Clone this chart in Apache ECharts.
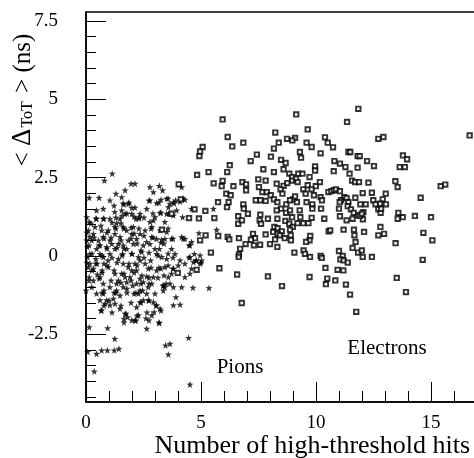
<!DOCTYPE html>
<html>
<head>
<meta charset="utf-8">
<script src="https://cdn.jsdelivr.net/npm/echarts@6/dist/echarts.min.js"></script>
<style>html,body{margin:0;padding:0;background:#fff}#c{width:474px;height:458px}</style>
</head>
<body>
<div id="c"></div>
<script>
// ---- data ----
const pions = [
[1.14,2.63],[0.80,2.41],[0.14,1.86],[0.57,1.86],[1.30,1.99],[1.70,2.10],[1.96,2.31],[2.13,2.31],[2.78,2.20],[2.93,2.04],[3.19,2.24],[3.33,2.10],[2.78,1.78],[3.07,1.69],[3.26,1.80],[3.51,1.83],[3.65,1.67],[3.90,1.78],[4.30,1.80],[2.64,1.51],[2.35,1.35],[1.84,1.67],[1.99,1.54],[1.65,1.65],[1.55,1.46],[1.25,1.41],[1.04,1.19],[0.75,1.19],[0.46,1.19],[0.14,1.09],[1.70,1.35],[1.99,1.35],[2.17,1.19],[2.32,1.24],[1.48,1.19],[1.33,1.05],[1.26,0.93],[0.97,0.82],[0.75,0.61],[0.54,0.50],[0.32,0.71],[0.10,0.82],[0.06,0.29],[0.17,0.07],[0.25,0.50],[0.46,0.23],[0.61,0.07],[0.43,-0.09],[0.17,-0.24],[0.32,-0.40],[0.14,-0.67],[0.49,-0.59],[0.70,-0.46],[0.78,-0.24],[0.96,-0.14],[0.61,0.34],[0.90,0.29],[1.12,0.39],[1.26,0.23],[1.41,0.39],[1.62,0.34],[1.77,0.23],[1.99,0.07],[1.04,0.07],[1.41,-0.09],[1.59,0.07],[1.62,-0.24],[1.84,-0.35],[1.99,-0.46],[1.91,-0.67],[1.77,-0.83],[1.62,-0.99],[1.48,-1.26],[1.33,-1.10],[1.19,-1.36],[0.90,-1.41],[0.83,-1.52],[0.68,-1.73],[1.04,-1.57],[1.26,-1.52],[1.48,-1.68],[1.70,-1.84],[1.65,-2.00],[1.81,-1.95],[1.99,-2.05],[2.13,-2.05],[2.28,-1.89],[2.20,-1.63],[2.35,-1.47],[2.49,-1.41],[2.71,-1.41],[2.93,-1.47],[3.07,-1.57],[3.22,-1.68],[2.96,-1.79],[2.86,-1.89],[2.74,-2.05],[2.64,-2.32],[3.19,-2.14],[2.28,-1.20],[2.46,-1.10],[2.71,-0.99],[2.86,-0.88],[2.93,-0.67],[3.07,-0.46],[3.25,-0.40],[3.43,-0.35],[3.51,-0.09],[3.29,-0.03],[3.07,0.07],[3.00,0.23],[2.78,0.39],[2.64,0.45],[2.49,0.34],[2.42,0.13],[2.28,-0.03],[2.13,-0.24],[2.20,-0.46],[2.35,-0.72],[2.49,-0.83],[2.64,-0.65],[2.71,-0.40],[2.57,-0.24],[2.81,-0.14],[2.35,0.71],[2.57,0.82],[2.86,0.93],[3.22,0.82],[3.51,0.77],[3.72,0.55],[3.43,0.55],[3.07,0.55],[2.86,0.61],[2.20,0.55],[1.99,0.71],[1.77,0.82],[1.62,0.93],[2.06,0.93],[2.06,0.39],[1.84,0.50],[2.35,-0.14],[1.48,0.61],[1.26,0.71],[1.04,0.50],[0.75,-0.03],[0.43,-0.24],[0.03,1.24],[0.07,-0.03],[0.10,-0.35],[0.75,-0.88],[0.61,-0.67],[0.97,-0.35],[1.26,-0.56],[1.41,-0.78],[1.55,-0.56],[1.70,-0.67],[3.36,-0.94],[3.43,-0.99],[3.58,-0.67],[3.72,-0.56],[3.80,-0.40],[4.01,-0.30],[4.16,0.61],[4.30,0.55],[4.52,0.34],[4.59,0.45],[4.52,-0.03],[4.67,-0.19],[4.81,-0.14],[4.96,-0.24],[5.03,-0.14],[4.59,-0.40],[4.52,-0.56],[4.30,-0.67],[4.16,-0.99],[3.91,-1.31],[3.80,-1.57],[4.09,-1.55],[5.35,-1.02],[3.46,-2.85],[3.58,-3.14],[3.65,-2.80],[4.46,-2.61],[4.52,-4.10],[0.14,-2.27],[0.94,-2.30],[1.25,-2.64],[1.43,-2.96],[1.23,-3.01],[0.93,-3.01],[0.68,-3.01],[0.46,-3.12],[0.07,-3.06],[0.36,-3.68],[4.91,0.73],[4.71,0.07],[4.96,0.02],[5.68,0.84],[5.54,1.51],[3.94,1.46],[4.59,1.51],[4.20,1.24],[3.80,1.30],[3.51,1.35],[3.22,1.38],[3.00,1.24],[2.93,1.14],[2.78,1.09],[4.09,1.74],[4.16,2.20],[3.80,1.72],[3.58,1.56],[3.43,1.09],[3.29,0.52],[3.19,0.23],[3.72,0.23],[3.87,0.07],[4.09,-0.14],[4.30,-0.24],[3.65,-0.88],[3.80,-0.99],[3.36,-1.10],[3.00,-1.20],[2.64,-1.20],[2.35,-1.10],[2.03,-0.94],[2.20,-0.88],[1.33,-0.88],[1.04,-0.99],[0.75,-1.20],[0.61,-1.41],[0.46,-1.20],[0.25,-0.99],[0.32,-0.78],[0.00,-1.10],[0.68,0.82],[0.39,0.93],[0.17,0.61],[0.03,0.50],[1.55,1.88],[1.04,1.78],[0.75,1.51],[0.46,1.46],
[1.22,1.61],[1.61,1.68],[1.87,1.71],[2.13,1.55],[0.43,1.20],[0.78,1.20],[1.30,1.23],[1.57,1.29],[1.78,1.36],[2.09,1.26],[2.30,1.20],[2.52,1.23],[0.22,1.04],[0.65,0.97],[1.13,1.07],[1.52,1.04],[1.96,0.91],[2.30,0.88],[0.04,0.75],[0.91,0.75],[1.30,0.88],[1.65,0.88],[2.09,0.72],[2.52,0.65],[0.35,0.59],[0.78,0.56],[1.09,0.59],[1.52,0.50],[1.96,0.56],[2.22,0.40],[0.13,0.34],[0.57,0.34],[0.91,0.24],[1.35,0.27],[1.65,0.24],[2.39,0.18],[0.26,0.08],[0.70,0.02],[1.13,-0.05],[1.57,0.02],[2.00,0.08],[2.52,-0.05],[0.04,-0.21],[0.48,-0.24],[0.91,-0.30],[1.35,-0.21],[1.87,-0.24],[2.22,-0.30],[0.26,-0.46],[0.70,-0.53],[1.22,-0.46],[1.65,-0.56],[2.09,-0.53],[2.43,-0.62],[0.13,-0.78],[0.57,-0.72],[1.09,-0.78],[1.52,-0.85],[1.96,-0.78],[2.39,-0.88],[0.78,-1.10],[1.30,-1.17],[1.78,-1.04],[2.17,-1.17],
[2.74,1.77],[3.17,1.71],[3.57,1.84],[3.83,1.68],[4.22,1.84],[2.91,1.36],[3.26,1.39],[3.61,1.36],[2.83,0.88],[3.57,0.88],[3.78,0.56],[4.22,0.56],[4.48,0.34],[2.91,0.59],[3.26,0.43],[3.39,0.40],[2.74,0.11],[3.13,0.02],[3.57,0.08],[3.78,-0.05],[4.48,-0.05],[4.78,-0.14],[5.00,-0.21],[2.83,-0.37],[3.17,-0.37],[3.57,-0.30],[3.78,-0.40],[2.74,-0.69],[3.13,-0.69],[3.39,-0.62],[2.74,-0.88],[3.35,-0.94],[3.48,-0.88],[4.65,-1.01],
[0.70,-1.17],[1.22,-1.17],[1.78,-1.17],[2.09,-1.20],[1.00,-1.42],[0.78,-1.58],[1.52,-1.58],[1.96,-1.49],[2.39,-1.49],[2.74,-1.42],[3.04,-1.58],[0.65,-1.74],[1.13,-1.80],[1.74,-1.84],[2.22,-1.90],[2.65,-1.80],[3.26,-1.74],[1.65,-2.12],[2.17,-2.06],[2.61,-1.99],[3.17,-2.12]
];
const electrons = [
[5.94,4.36],[9.14,4.52],[11.84,4.70],[11.35,4.28],[9.64,4.04],[8.23,3.94],[6.16,3.80],[6.84,3.62],[6.36,3.50],[5.07,3.48],[10.39,3.79],[10.51,3.62],[9.59,3.62],[9.81,3.48],[10.74,3.47],[12.71,3.74],[12.93,3.80],[16.68,3.85],[8.74,3.74],[9.09,3.77],[8.97,3.69],[8.38,3.62],[8.17,3.43],[4.93,3.19],[4.96,3.34],[7.43,3.24],[7.16,3.03],[8.04,3.17],[8.48,3.07],[8.68,2.97],[9.30,3.32],[9.35,3.14],[10.20,3.28],[11.41,3.32],[11.49,3.32],[11.81,3.19],[11.90,3.19],[12.22,3.03],[10.80,3.03],[11.04,2.95],[11.28,2.84],[11.81,2.82],[12.52,2.87],[13.78,3.21],[13.96,3.09],[13.64,2.84],[13.86,2.84],[6.25,2.90],[6.14,2.68],[4.83,2.59],[5.33,2.68],[7.71,2.77],[8.17,2.68],[8.59,2.77],[8.84,2.63],[8.96,2.52],[9.23,2.63],[9.41,2.63],[9.96,2.86],[9.96,2.73],[9.72,2.52],[10.77,2.71],[11.46,2.63],[11.57,2.41],[11.70,2.36],[11.87,2.36],[12.28,2.34],[13.45,2.39],[13.55,2.20],[15.42,2.23],[15.62,2.28],[4.03,2.29],[5.55,2.32],[5.94,2.40],[5.90,2.23],[6.41,2.23],[6.80,2.36],[6.96,2.29],[6.96,2.10],[7.49,2.45],[7.81,2.41],[8.29,2.31],[8.59,2.24],[8.75,2.33],[8.97,2.41],[9.13,2.47],[9.20,2.36],[9.45,2.13],[9.64,2.26],[9.81,2.13],[9.99,2.23],[10.17,2.36],[7.52,2.20],[7.67,2.04],[7.86,2.04],[8.03,1.94],[8.46,2.13],[8.54,1.99],[9.55,1.99],[9.91,1.94],[10.20,1.88],[10.54,2.04],[10.67,2.07],[10.78,2.10],[10.87,2.13],[11.04,2.07],[11.23,1.88],[12.03,2.01],[12.43,2.02],[13.03,1.99],[12.90,1.81],[12.78,1.67],[6.10,1.99],[6.29,1.94],[6.20,1.72],[5.74,1.72],[4.12,1.81],[7.58,1.78],[7.81,1.76],[7.38,1.78],[8.17,1.81],[8.32,1.72],[9.01,1.81],[9.17,1.72],[9.59,1.72],[9.84,1.65],[10.26,1.78],[11.09,1.78],[11.33,1.85],[11.41,1.72],[11.71,1.86],[11.93,1.65],[12.16,1.65],[12.49,1.78],[12.59,1.65],[14.55,1.86],[12.71,1.49],[12.81,1.38],[13.04,1.65],[13.77,1.24],[13.58,1.38],[14.30,1.28],[15.00,1.24],[6.84,1.65],[6.86,1.51],[8.71,1.65],[8.48,1.51],[8.70,1.38],[8.87,1.46],[9.29,1.46],[9.84,1.51],[10.22,1.51],[11.00,1.51],[11.38,1.59],[11.52,1.49],[11.64,1.38],[11.83,1.30],[12.06,1.40],[12.04,1.17],[11.91,1.28],[12.83,1.51],[13.55,1.19],[4.72,1.49],[5.19,1.44],[5.58,1.21],[4.48,1.21],[4.91,1.20],[3.72,1.35],[3.30,0.84],[6.13,1.56],[7.04,1.35],[6.62,1.27],[6.62,1.03],[6.78,1.14],[7.55,1.14],[7.61,1.03],[7.58,1.32],[7.91,1.19],[8.32,1.19],[8.29,1.46],[8.67,1.12],[8.96,1.24],[8.84,1.03],[8.99,0.93],[9.32,1.24],[9.20,1.05],[9.45,1.05],[9.67,1.05],[9.81,1.22],[10.36,1.19],[11.04,1.27],[11.33,1.14],[11.59,1.19],[12.80,0.93],[12.71,0.66],[12.96,0.71],[11.20,0.84],[11.65,0.84],[12.09,0.77],[10.55,0.79],[10.62,0.82],[11.67,0.66],[14.67,0.74],[15.06,0.50],[13.46,0.41],[8.19,0.93],[8.33,0.89],[8.51,0.79],[8.14,0.77],[8.33,0.71],[8.43,0.66],[8.64,0.57],[8.22,0.53],[8.87,0.84],[8.90,0.66],[8.91,0.50],[7.81,0.69],[7.26,0.71],[7.35,0.57],[7.17,0.52],[7.30,0.34],[6.94,0.38],[6.65,0.57],[6.16,0.61],[6.23,0.53],[7.57,0.36],[8.00,0.38],[8.32,0.29],[5.20,0.66],[4.96,0.50],[5.43,0.11],[5.75,0.64],[6.70,0.23],[6.65,0.04],[6.64,-0.03],[9.06,0.11],[9.46,0.18],[9.52,0.07],[9.74,-0.03],[9.75,0.64],[9.72,0.50],[9.57,0.45],[11.00,0.16],[11.16,0.00],[11.59,0.26],[11.72,0.45],[11.83,0.11],[11.99,0.18],[12.03,-0.03],[12.43,-0.03],[10.20,0.00],[10.25,-0.06],[10.41,-0.38],[11.06,-0.11],[11.20,-0.14],[11.38,-0.21],[10.94,-0.44],[11.19,-0.46],[10.49,-0.72],[10.43,-0.90],[10.84,-0.78],[11.30,-0.91],[11.48,-1.23],[11.75,-1.78],[14.64,-0.12],[13.51,-0.70],[13.91,-1.15],[9.72,-0.67],[8.52,-0.96],[7.91,-0.65],[6.57,-0.59],[6.77,-1.50],[5.80,-0.39],[4.81,-0.44],[3.99,-0.54],[11.99,1.35],[11.03,1.72],[9.09,1.90],[8.87,1.78]
];
const xMin = 0, xMax = 20, xMajor = 5, xMinorSplit = 5;
const yMin = -4.66, yMax = 7.79;
const yLabelValues = [-2.5, 0, 2.5, 5, 7.5];
const yMinorValues = [-4.5,-4,-3.5,-3,-2.5,-2,-1.5,-1,-0.5,0,0.5,1,1.5,2,2.5,3,3.5,4,4.5,5,5.5,6,6.5,7,7.5];
const xTitle = 'Number of high-threshold hits';
const annotationPions = 'Pions';
const annotationElectrons = 'Electrons';

// ---- layout ----
const W = 474, H = 458;
const gridLeft = 86, gridTop = 12, gridBottom = 56, gridRight = -72;
const gridWidth = W - gridLeft - gridRight;
const FONT = '"Liberation Serif", "DejaVu Serif", serif';
const starPath = 'path://M0,-10 L2.35,-3.24 L9.51,-3.09 L3.8,1.24 L5.88,8.09 L0,4 L-5.88,8.09 L-3.8,1.24 L-9.51,-3.09 L-2.35,-3.24 Z';

const chart = echarts.init(document.getElementById('c'), null, {renderer: 'canvas'});
chart.setOption({
  animation: false,
  backgroundColor: '#fff',
  grid: {left: gridLeft, top: gridTop, bottom: gridBottom, right: gridRight, outerBoundsMode: 'none', containLabel: false,
    show: true, borderColor: '#000', borderWidth: 1.5, backgroundColor: 'transparent'},
  xAxis: [{
    type: 'value', min: xMin, max: xMax, interval: xMajor, position: 'bottom',
    axisLine: {show: true, onZero: false, lineStyle: {color: '#000', width: 1.5}},
    axisTick: {show: true, inside: true, length: 20, lineStyle: {color: '#000', width: 1}},
    minorTick: {show: true, splitNumber: xMinorSplit, length: 11, lineStyle: {color: '#000', width: 1}},
    axisLabel: {show: true, margin: 12, fontSize: 19, fontFamily: FONT, color: '#000'},
    splitLine: {show: false}, minorSplitLine: {show: false}
  }],
  yAxis: [{
    type: 'value', min: yMin, max: yMax, position: 'left',
    axisLine: {show: true, onZero: false, lineStyle: {color: '#000', width: 1.5}},
    axisTick: {show: true, inside: true, length: 10, customValues: yMinorValues, lineStyle: {color: '#000', width: 1}},
    axisLabel: {show: true, margin: 28, fontSize: 19, fontFamily: FONT, color: '#000', customValues: yLabelValues,
      formatter: v => String(v)},
    splitLine: {show: false}
  }, {
    type: 'value', min: yMin, max: yMax, position: 'right', offset: -gridWidth,
    axisLine: {show: false, onZero: false},
    axisTick: {show: true, inside: false, length: 20, customValues: yLabelValues, lineStyle: {color: '#000', width: 1}},
    axisLabel: {show: false},
    splitLine: {show: false}
  }],
  series: [{
    name: 'Pions', type: 'scatter', data: pions, xAxisIndex: 0, yAxisIndex: 0,
    symbol: starPath, symbolSize: 7, itemStyle: {color: '#000'}, silent: true
  }, {
    name: 'Electrons', type: 'scatter', data: electrons, xAxisIndex: 0, yAxisIndex: 0,
    symbol: 'rect', symbolSize: 4.4, itemStyle: {color: '#fff', borderColor: '#000', borderWidth: 1.9}, silent: true
  }],
  graphic: [
    {type: 'text', x: 470, y: 446, style: {text: xTitle, font: '26px ' + FONT, fill: '#000', textAlign: 'right', textVerticalAlign: 'middle'}},
    {type: 'text', x: 22, y: 100, rotation: Math.PI / 2,
      style: {text: '{a|< }{d|Δ}{s|ToT}{a| > (ns)}', fill: '#000', textAlign: 'center', textVerticalAlign: 'middle',
        rich: {
          a: {fontSize: 25, fontFamily: FONT, fill: '#000', verticalAlign: 'bottom', lineHeight: 28},
          d: {fontSize: 27, fontFamily: FONT, fill: '#000', verticalAlign: 'bottom', lineHeight: 28},
          s: {fontSize: 16, fontFamily: FONT, fill: '#000', verticalAlign: 'bottom', lineHeight: 24, padding: [0, 2, 0, 1]}
        }}},
    {type: 'text', x: 240, y: 367, style: {text: annotationPions, font: '21px ' + FONT, fill: '#000', textAlign: 'center', textVerticalAlign: 'middle'}},
    {type: 'text', x: 387, y: 348, style: {text: annotationElectrons, font: '21px ' + FONT, fill: '#000', textAlign: 'center', textVerticalAlign: 'middle'}}
  ]
});
</script>
</body>
</html>
